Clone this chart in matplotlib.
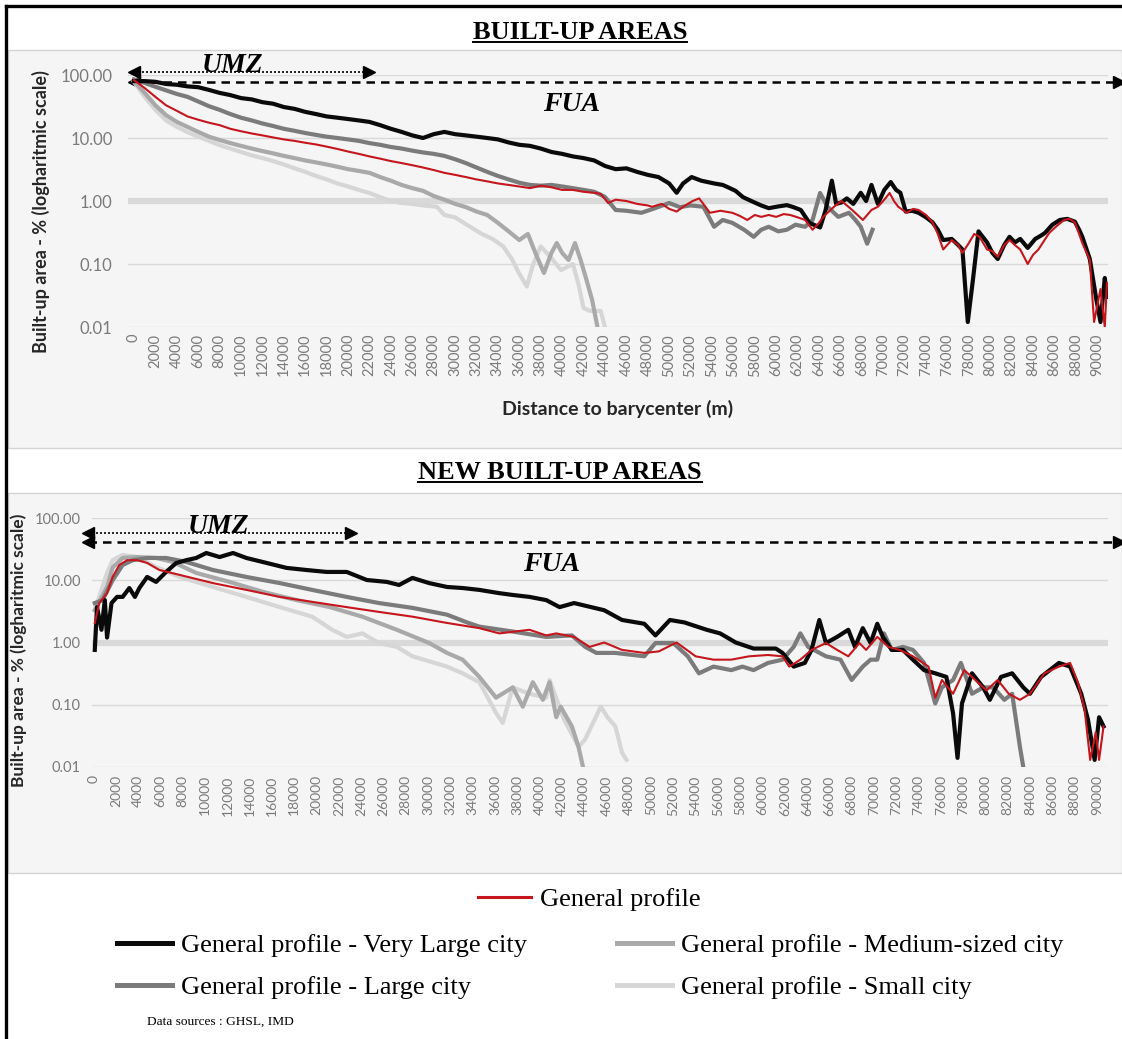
import numpy as np
import matplotlib
matplotlib.use('Agg')
import matplotlib.pyplot as plt
from matplotlib.lines import Line2D
from matplotlib.patches import Rectangle
from matplotlib.ticker import NullLocator

# ---- data (distance in km, built-up share in %) ----
# panel 1 : built-up areas
bu_vlarge_km = [0, 1, 2, 3, 4, 5, 6, 7, 8, 9, 10, 11, 12, 13, 14, 15, 16, 17, 18, 19, 20, 21, 22, 23, 24, 25,
                26, 27, 28, 29, 30, 31, 32, 33, 34, 35, 36, 37, 38, 39, 40, 41, 42, 43, 44, 45, 46, 47, 48, 49,
                50, 50.7, 51.3, 52.1, 53, 54.2, 55, 55.5, 56.2, 56.9, 57.9, 58.6, 59.3, 60.2, 61, 61.6, 62.3,
                63.1, 64.1, 64.6, 65.2, 65.6, 66.1, 66.6, 67.2, 67.9, 68.4, 68.9, 69.5, 70.1, 70.7, 71.2, 71.6,
                72.1, 72.7, 73.3, 74, 74.6, 75.1, 75.6, 76.4, 77, 77.4, 77.9, 78.4, 78.9, 79.7, 80.2, 80.7, 81.3,
                81.8, 82.3, 82.8, 83.5, 84.2, 84.7, 85.1, 85.8, 86.5, 87.2, 87.9, 88.3, 88.6, 89.3, 89.9, 90.3,
                90.7, 90.9]
bu_vlarge = [80, 80, 78, 72, 70, 66, 64, 58, 52, 48, 43, 41, 37, 35, 31, 29, 26, 24, 22, 21, 20, 19, 18, 16, 14,
             12.5, 11, 10, 11.5, 12.5, 11.5, 11, 10.5, 10, 9.5, 8.5, 7.8, 7.5, 6.8, 6.0, 5.6, 5.1, 4.8, 4.4, 3.6,
             3.2, 3.3, 2.9, 2.6, 2.4, 1.9, 1.35, 1.9, 2.4, 2.1, 1.9, 1.8, 1.65, 1.45, 1.15, 0.96, 0.85, 0.77, 0.82,
             0.86, 0.8, 0.72, 0.45, 0.38, 0.7, 2.1, 0.9, 0.95, 1.1, 0.9, 1.35, 1.0, 1.8, 0.9, 1.5, 2.0, 1.5, 1.35,
             0.68, 0.7, 0.65, 0.55, 0.46, 0.35, 0.24, 0.25, 0.2, 0.17, 0.012, 0.06, 0.33, 0.22, 0.15, 0.12, 0.2,
             0.27, 0.22, 0.25, 0.18, 0.25, 0.28, 0.31, 0.42, 0.5, 0.52, 0.47, 0.35, 0.27, 0.12, 0.028, 0.012,
             0.06, 0.03]

bu_large_km = [0, 1, 2, 3, 4, 5, 6, 7, 8, 9, 10, 11, 12, 13, 14, 15, 16, 17, 18, 19, 20, 21, 22, 23, 24, 25, 26,
               27, 28, 29, 30, 31, 32, 33, 34, 35, 36, 37, 38, 39, 40, 41, 42, 43, 44, 45, 46, 47.4, 48.5, 50,
               51, 52, 53.2, 54.2, 55, 55.9, 57, 57.9, 58.6, 59.3, 60.2, 61, 61.8, 62.7, 63.4, 64.1, 64.8, 65.8,
               66.8, 67.4, 67.9, 68.5, 69]
bu_large = [85, 75, 65, 57, 50, 45, 38, 32, 28, 24, 21, 19, 17, 15.5, 14, 13, 12, 11.2, 10.5, 10, 9.5, 9, 8.3,
            7.8, 7.2, 6.8, 6.3, 5.9, 5.6, 5.2, 4.6, 4.0, 3.4, 2.9, 2.5, 2.2, 1.95, 1.8, 1.75, 1.8, 1.7, 1.6, 1.5,
            1.4, 1.16, 0.72, 0.7, 0.65, 0.75, 0.93, 0.8, 0.85, 0.81, 0.39, 0.5, 0.45, 0.35, 0.27, 0.35, 0.39,
            0.33, 0.35, 0.42, 0.39, 0.5, 1.34, 0.81, 0.56, 0.65, 0.5, 0.39, 0.21, 0.35]

bu_medium_km = [0, 1, 2, 3, 4, 5, 6, 7, 8, 9, 10, 11, 12, 13, 14, 15, 16, 17, 18, 19, 20, 21, 22, 23, 24, 25, 26,
                27, 28, 29, 30, 31, 32, 33, 34, 35, 36, 36.8, 37.5, 38.3, 39, 39.5, 40, 40.6, 41.2, 41.7, 42.2,
                42.8, 43.3]
bu_medium = [80, 52, 33, 23, 18, 15, 12.5, 10.5, 9.3, 8.3, 7.5, 6.8, 6.2, 5.7, 5.2, 4.8, 4.4, 4.1, 3.8, 3.5, 3.2,
             3.0, 2.8, 2.4, 2.1, 1.8, 1.6, 1.45, 1.2, 1.05, 0.9, 0.8, 0.68, 0.6, 0.45, 0.33, 0.24, 0.3, 0.15,
             0.072, 0.15, 0.215, 0.15, 0.116, 0.215, 0.12, 0.062, 0.027, 0.01]

bu_small_km = [0, 1, 2, 3, 4, 5, 6, 7, 8, 9, 10, 11, 12, 13, 14, 15, 16, 17, 18, 19, 20, 21, 22, 23, 24, 25, 26,
               27, 28.3, 29, 30, 31.4, 32.5, 33.5, 34.5, 35.3, 36, 36.7, 37.3, 38, 38.9, 39.9, 41, 41.5, 42,
               42.6, 43.6, 44]
bu_small = [78, 45, 28, 19, 15, 12.4, 10.5, 9, 7.7, 6.8, 6.0, 5.3, 4.8, 4.3, 3.8, 3.3, 2.9, 2.5, 2.2, 1.9, 1.7,
            1.5, 1.34, 1.15, 1.0, 0.93, 0.9, 0.85, 0.81, 0.6, 0.55, 0.39, 0.3, 0.25, 0.19, 0.12, 0.07, 0.044,
            0.1, 0.19, 0.13, 0.08, 0.1, 0.05, 0.02, 0.018, 0.018, 0.01]

bu_general_km = [0, 1, 2, 3, 4, 5, 6, 7, 8, 9, 10, 11, 12, 13, 14, 15, 16, 17, 18, 19, 20, 21, 22, 23, 24, 25, 26,
                 27, 28, 29, 30, 31, 32, 33, 34, 35, 36, 37, 38, 39, 40, 41, 42, 43, 43.6, 44.3, 45, 46, 47, 48,
                 48.4, 49.3, 50, 50.7, 51.5, 52.2, 52.8, 53.3, 53.8, 54.8, 55.9, 56.6, 57.3, 58, 58.6, 59.3, 60,
                 60.7, 61.3, 62, 62.7, 63.4, 64, 64.4, 65, 65.4, 66.1, 66.6, 67.1, 68.1, 68.9, 69.5, 70, 70.6, 71,
                 71.4, 72.2, 72.8, 73.3, 74, 74.6, 75.1, 75.6, 76.4, 77, 77.4, 78, 78.5, 79, 79.7, 80.2, 80.7,
                 81.3, 81.8, 82.3, 82.8, 83.5, 84, 84.5, 85.5, 86.2, 86.9, 87.4, 87.9, 88.3, 88.6, 89.3, 89.7,
                 90.3, 90.7, 90.9]
bu_general = [83, 62, 45, 33, 27, 22, 19.5, 17.5, 16, 14, 12.8, 11.8, 11, 10.2, 9.5, 9, 8.4, 7.9, 7.3, 6.7, 6.1,
              5.6, 5.1, 4.7, 4.3, 4.0, 3.7, 3.4, 3.1, 2.8, 2.6, 2.4, 2.2, 2.05, 1.9, 1.8, 1.7, 1.6, 1.75, 1.65,
              1.5, 1.5, 1.4, 1.35, 1.3, 0.93, 1.05, 1.0, 0.9, 0.85, 0.81, 0.9, 0.75, 0.68, 0.85, 1.0, 1.1, 0.85,
              0.65, 0.7, 0.65, 0.58, 0.5, 0.6, 0.56, 0.6, 0.56, 0.62, 0.6, 0.55, 0.5, 0.35, 0.45, 0.56, 0.7,
              0.81, 1.0, 0.85, 0.72, 0.5, 0.72, 0.81, 1.0, 1.34, 1.0, 0.81, 0.65, 0.75, 0.72, 0.6, 0.46, 0.3,
              0.17, 0.24, 0.2, 0.15, 0.215, 0.3, 0.27, 0.17, 0.16, 0.13, 0.2, 0.24, 0.2, 0.17, 0.1, 0.14, 0.17,
              0.31, 0.4, 0.5, 0.52, 0.46, 0.3, 0.215, 0.116, 0.012, 0.04, 0.01, 0.05]

# panel 2 : new built-up areas
nbu_vlarge_km = [0.1, 0.3, 0.7, 1.0, 1.2, 1.6, 2.1, 2.6, 3.2, 3.7, 4.1, 4.8, 5.6, 6.5, 7.4, 8.3, 9.2, 10.1, 11.3,
                 12.5, 13.7, 15.5, 17.3, 19.1, 20.9, 22.7, 24.5, 26.3, 27.4, 28.6, 30.1, 31.7, 33.1, 34.6, 36.4,
                 37.6, 39.1, 40.6, 41.8, 43.1, 45.8, 47.4, 49.4, 50.4, 51.7, 53, 55, 56.2, 57.6, 59.2, 61.2,
                 61.8, 62.8, 63.8, 64.4, 65.1, 65.7, 66.7, 67.7, 68.3, 69, 69.7, 70.3, 70.8, 71.6, 72.6, 73.5,
                 74.5, 75.5, 76.5, 77.1, 77.5, 77.9, 78.8, 79.8, 80.4, 81.4, 82.4, 83.4, 84, 85, 86.6, 87.6,
                 88.6, 89.2, 89.8, 90.2, 90.6]
nbu_vlarge = [0.76, 3.7, 1.6, 4.8, 1.2, 4.3, 5.4, 5.4, 7.5, 5.4, 7.5, 11.3, 9.4, 13.6, 18.9, 21, 22.8, 27.4, 23.6,
              27.4, 22.8, 19, 15.8, 14.6, 13.6, 13.6, 10.1, 9.4, 8.4, 10.9, 9.0, 7.8, 7.5, 7.0, 6.2, 5.8, 5.4,
              4.8, 3.7, 4.3, 3.3, 2.3, 2.0, 1.3, 2.3, 2.1, 1.6, 1.4, 1.0, 0.8, 0.8, 0.68, 0.41, 0.47, 0.76, 2.3,
              0.98, 1.23, 1.6, 0.85, 1.7, 0.98, 2.0, 1.23, 0.76, 0.76, 0.53, 0.36, 0.32, 0.28, 0.073, 0.014,
              0.105, 0.32, 0.19, 0.12, 0.28, 0.32, 0.19, 0.15, 0.28, 0.47, 0.41, 0.15, 0.058, 0.013, 0.063, 0.045]

nbu_large_km = [0.1, 0.8, 1.7, 2.6, 3.5, 4.8, 6.5, 8.3, 10.7, 13.7, 16.7, 19.6, 22.7, 25.6, 28.6, 31.7, 33.5,
                34.6, 37.6, 40.6, 42.9, 44.1, 45.1, 46.8, 49.4, 50.4, 52, 53.3, 54.3, 55.6, 57.2, 58.2, 59.2,
                60.5, 61.8, 62.8, 63.4, 64.1, 65.7, 67, 68, 69, 69.7, 70.3, 70.9, 71.6, 72.6, 73.5, 74.5, 75.5,
                76.1, 77.1, 77.8, 78.8, 79.8, 80.7, 81.7, 82.4, 83.1, 83.4]
nbu_large = [4.3, 4.8, 10, 17.6, 21, 22.8, 22.8, 19.7, 14.6, 11.3, 9.0, 7.0, 5.4, 4.3, 3.6, 2.8, 2.1, 1.8, 1.5,
             1.23, 1.3, 0.85, 0.68, 0.68, 0.6, 0.98, 0.98, 0.6, 0.32, 0.41, 0.36, 0.41, 0.36, 0.47, 0.53, 0.85,
             1.4, 0.85, 0.6, 0.53, 0.25, 0.41, 0.53, 0.53, 1.4, 0.76, 0.85, 0.76, 0.47, 0.105, 0.19, 0.25, 0.47,
             0.15, 0.19, 0.19, 0.12, 0.15, 0.021, 0.01]

nbu_medium_km = [0.1, 1.2, 1.7, 2.6, 3.9, 5.6, 7.1, 9.2, 12.2, 15.2, 18.2, 21.2, 24.1, 27.2, 30.1, 31.7, 33.1,
                 34.6, 36.1, 37.6, 38.5, 39.4, 40.3, 40.9, 41.5, 41.9, 42.9, 43.5, 43.9]
nbu_medium = [3.3, 7.8, 16, 22.8, 23.6, 22.8, 19.7, 13.1, 9.4, 6.5, 4.8, 3.7, 2.6, 1.6, 0.98, 0.68, 0.53, 0.28,
              0.13, 0.19, 0.093, 0.23, 0.12, 0.23, 0.063, 0.093, 0.045, 0.021, 0.01]

nbu_small_km = [0.1, 1.2, 1.7, 2.6, 3.9, 5.6, 7.7, 10.7, 13.7, 16.7, 19.6, 21.4, 22.7, 24.1, 25.6, 27.2, 28.6,
                31.7, 33.1, 34.6, 36.1, 36.7, 37.6, 39.1, 40.6, 40.9, 42.2, 43.5, 44.1, 45.5, 46.1, 46.8, 47.4,
                47.8]
nbu_small = [3.3, 13.1, 21, 25.5, 23.6, 16.3, 11.3, 7.8, 5.4, 3.7, 2.6, 1.6, 1.23, 1.4, 0.98, 0.85, 0.6, 0.41,
             0.32, 0.23, 0.074, 0.051, 0.19, 0.15, 0.13, 0.25, 0.058, 0.021, 0.028, 0.093, 0.063, 0.045, 0.017,
             0.013]

nbu_general_km = [0.1, 0.5, 1.2, 1.7, 2.3, 3.0, 3.9, 4.8, 5.9, 7.7, 10.7, 13.7, 16.7, 19.6, 22.7, 25.6, 28.6,
                  31.7, 34.6, 36.4, 39.1, 40.6, 41.5, 43.1, 44.5, 45.8, 47.4, 49.4, 50.7, 52.3, 54, 55.6, 57.2,
                  58.8, 60.5, 61.8, 62.4, 63.4, 64.4, 65.7, 66.7, 67.7, 68.7, 69.3, 70.3, 71.3, 72.3, 73.5, 74.9,
                  75.5, 76.1, 77.1, 78.1, 79.1, 80.1, 81.1, 82.1, 83.1, 84, 85.3, 86.6, 87.6, 88.3, 88.9, 89.4,
                  89.9, 90.2, 90.6]
nbu_general = [2.06, 4.3, 6.2, 11.3, 17.6, 21, 21, 19, 14.6, 12.2, 9.0, 7.0, 5.4, 4.5, 3.7, 3.1, 2.6, 2.06, 1.7,
               1.4, 1.6, 1.3, 1.4, 1.23, 0.85, 1.0, 0.76, 0.68, 0.72, 1.0, 0.6, 0.53, 0.53, 0.6, 0.63, 0.6, 0.41,
               0.53, 0.76, 0.98, 0.76, 0.6, 0.98, 0.76, 1.23, 0.85, 0.76, 0.6, 0.41, 0.13, 0.25, 0.15, 0.36,
               0.25, 0.17, 0.25, 0.15, 0.12, 0.15, 0.32, 0.41, 0.47, 0.23, 0.084, 0.013, 0.036, 0.013, 0.045]

yticks = [0.01, 0.1, 1, 10, 100]
ytick_labels = ['0.01', '0.10', '1.00', '10.00', '100.00']
xticks = list(range(0, 90001, 2000))
labels = ['General profile - Very Large city', 'General profile - Large city',
          'General profile - Medium-sized city', 'General profile - Small city', 'General profile']

# ---- styles ----
COL = {'vlarge': '#0a0a0a', 'large': '#7b7b7b', 'medium': '#a9a9a9', 'small': '#d6d6d6', 'general': '#c4161c'}
LW = {'vlarge': 3.0, 'large': 3.0, 'medium': 3.0, 'small': 3.0, 'general': 1.5}
AX_FONT = 'Lato'
SERIF = 'Liberation Serif'

W, H = 1122, 1039
fig = plt.figure(figsize=(W / 100, H / 100), dpi=100)


def fx(px):
    return px / W


def fy(py):
    return 1 - py / H


# panel backgrounds
for top, bot in [(50, 448), (493, 873)]:
    fig.add_artist(Rectangle((fx(8), fy(bot)), 1 - fx(8), (bot - top) / H, transform=fig.transFigure,
                             facecolor='#f5f5f5', edgecolor='#d4d4d4', lw=1, zorder=-10))
# outer black frame (top and left only, as in the crop)
fig.add_artist(Line2D([fx(6), fx(6)], [0, fy(6)], color='black', lw=2.4, transform=fig.transFigure))
fig.add_artist(Line2D([fx(6), 1], [fy(6), fy(6)], color='black', lw=2.4, transform=fig.transFigure))


def draw_panel(ax, series, xlim, fs_xtick, fs_ytick, fs_ylab, ypad, xpad):
    ax.set_facecolor('none')
    ax.set_yscale('log')
    ax.set_ylim(0.01, 100)
    ax.set_xlim(*xlim)
    for sp in ax.spines.values():
        sp.set_visible(False)
    for v in yticks:
        ax.axhline(v, color='#d9d9d9', lw=4.5 if v == 1 else 1.0, zorder=0)
    for key, km, vals in series:
        ax.plot(np.array(km) * 1000, vals, color=COL[key], lw=LW[key],
                solid_joinstyle='round', zorder=5 if key == 'general' else 3)
    ax.set_yticks(yticks)
    ax.set_yticklabels(ytick_labels, fontfamily=AX_FONT, fontsize=fs_ytick, color='#7a7a7a')
    ax.yaxis.set_minor_locator(NullLocator())
    ax.set_xticks(xticks)
    ax.set_xticklabels([str(t) for t in xticks], rotation=90, fontfamily=AX_FONT,
                       fontsize=fs_xtick, color='#7a7a7a')
    ax.tick_params(axis='both', length=0)
    ax.tick_params(axis='y', pad=ypad)
    ax.tick_params(axis='x', pad=xpad)
    ax.set_ylabel('Built-up area - % (logharitmic scale)', fontfamily=AX_FONT, fontweight='bold',
                  fontsize=fs_ylab, color='#262626')


def arrows(ax, umz_end, y_umz, y_fua, x0):
    ax.plot([x0, umz_end], [y_umz, y_umz], color='black', lw=1.2, ls=(0, (1.2, 1.2)), clip_on=False)
    ax.plot([x0], [y_umz], marker='<', ms=9, color='black', clip_on=False)
    ax.plot([umz_end], [y_umz], marker='>', ms=9, color='black', clip_on=False)
    ax.plot([x0, 92000], [y_fua, y_fua], color='black', lw=1.8, ls=(0, (3.4, 2.4)), clip_on=False)
    ax.plot([x0], [y_fua], marker='<', ms=9, color='black', clip_on=False)
    ax.plot([92000], [y_fua], marker='>', ms=9, color='black', clip_on=False)


# ---- panel 1 ----
ax1 = fig.add_axes([fx(128), fy(327), (1108 - 128) / W, (327 - 75) / H])
s1 = [('small', bu_small_km, bu_small), ('medium', bu_medium_km, bu_medium),
      ('large', bu_large_km, bu_large), ('vlarge', bu_vlarge_km, bu_vlarge),
      ('general', bu_general_km, bu_general)]
draw_panel(ax1, s1, (-560, 91000), 10.5, 12, 13, 11, 5)
ax1.yaxis.set_label_coords((50 - 128) / 980, 0.46)
ax1.set_xlabel('Distance to barycenter (m)', fontfamily=AX_FONT, fontweight='bold', fontsize=14,
               color='#262626', labelpad=17)
arrows(ax1, 22000, 111, 77, 0)
ax1.text(9200, 111, 'UMZ', fontfamily=SERIF, fontweight='bold', fontstyle='italic', fontsize=20,
         ha='center', va='baseline')
ax1.text(40900, 27, 'FUA', fontfamily=SERIF, fontweight='bold', fontstyle='italic', fontsize=20,
         ha='center', va='baseline')

# ---- panel 2 ----
ax2 = fig.add_axes([fx(92), fy(767), (1108 - 92) / W, (767 - 518) / H])
s2 = [('small', nbu_small_km, nbu_small), ('medium', nbu_medium_km, nbu_medium),
      ('large', nbu_large_km, nbu_large), ('vlarge', nbu_vlarge_km, nbu_vlarge),
      ('general', nbu_general_km, nbu_general)]
draw_panel(ax2, s2, (-150, 91000), 10, 10.5, 12.5, 8, 6)
ax2.yaxis.set_label_coords((27 - 92) / 1016, 0.47)
arrows(ax2, 23100, 58, 41, -540)
ax2.text(11200, 57, 'UMZ', fontfamily=SERIF, fontweight='bold', fontstyle='italic', fontsize=20,
         ha='center', va='baseline')
ax2.text(41100, 14, 'FUA', fontfamily=SERIF, fontweight='bold', fontstyle='italic', fontsize=20,
         ha='center', va='baseline')

# ---- titles (underlined) ----
titles = []
for txt, cx, base in [('BUILT-UP AREAS', 580, 39), ('NEW BUILT-UP AREAS', 560, 479)]:
    t = fig.text(fx(cx), fy(base), txt, fontfamily=SERIF, fontweight='bold', fontsize=19,
                 ha='center', va='baseline')
    titles.append((t, base))

# ---- legend ----
def handle(key, lw):
    return Line2D([], [], color=COL[key], lw=lw)


fig.legend([handle('general', 2.2)], [labels[4]], loc='upper left', bbox_to_anchor=(fx(478), fy(888)),
           frameon=False, prop={'family': SERIF, 'size': 19}, handlelength=2.0, handletextpad=0.35,
           borderpad=0, borderaxespad=0)
fig.legend([handle('vlarge', 3.6), handle('large', 3.6), handle('medium', 3.6), handle('small', 3.6)],
           labels[:4], loc='upper left', bbox_to_anchor=(fx(117), fy(934)), ncol=2, frameon=False,
           prop={'family': SERIF, 'size': 19}, handlelength=2.1, handletextpad=0.33, columnspacing=3.4,
           labelspacing=0.68, borderpad=0, borderaxespad=0)
fig.text(fx(147), fy(1025), 'Data sources : GHSL, IMD', fontfamily=SERIF, fontsize=9.6, ha='left',
         va='baseline')

fig.canvas.draw()
for t, base in titles:
    bb = t.get_window_extent()
    fig.add_artist(Line2D([bb.x0 / W, bb.x1 / W], [fy(base + 3)] * 2, color='black', lw=1.4,
                          transform=fig.transFigure))

fig.savefig('out.png', dpi=100)
